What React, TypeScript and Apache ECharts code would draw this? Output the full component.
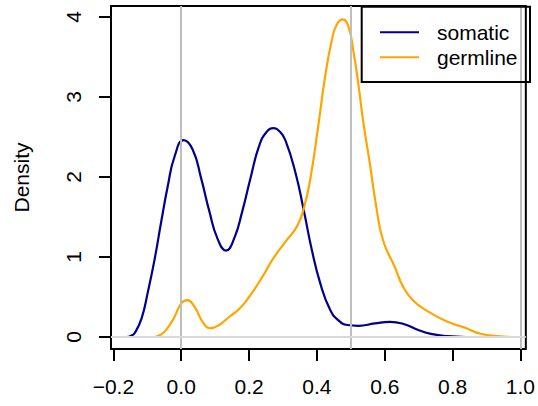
import React, { useEffect, useRef } from "react";
import * as echarts from "echarts";

const seriesNames = ["somatic", "germline"];
const seriesColors = ["#00008B", "#FFA500"];

const somaticX = [-0.161, -0.15, -0.137, -0.117, -0.098, -0.078, -0.059, -0.039, -0.02, 0.007, 0.034, 0.059, 0.083, 0.107, 0.132, 0.156, 0.18, 0.204, 0.229, 0.251, 0.273, 0.29, 0.307, 0.337, 0.361, 0.385, 0.41, 0.439, 0.463, 0.49, 0.522, 0.571, 0.615, 0.658, 0.697, 0.736, 0.785, 0.839];
const somaticY = [0, 0.01, 0.05, 0.23, 0.57, 0.98, 1.44, 1.9, 2.25, 2.46, 2.34, 1.98, 1.57, 1.23, 1.08, 1.23, 1.57, 1.98, 2.38, 2.56, 2.61, 2.57, 2.46, 2.05, 1.59, 1.09, 0.67, 0.34, 0.21, 0.15, 0.14, 0.17, 0.19, 0.16, 0.09, 0.04, 0.01, 0];

const germlineX = [-0.078, -0.06, -0.044, -0.02, 0, 0.018, 0.039, 0.063, 0.085, 0.112, 0.141, 0.171, 0.2, 0.239, 0.268, 0.307, 0.341, 0.361, 0.38, 0.405, 0.424, 0.444, 0.458, 0.476, 0.493, 0.507, 0.522, 0.536, 0.556, 0.575, 0.595, 0.629, 0.654, 0.683, 0.727, 0.785, 0.834, 0.883, 0.932, 0.973];
const germlineY = [0, 0.03, 0.09, 0.25, 0.42, 0.46, 0.38, 0.19, 0.11, 0.15, 0.25, 0.35, 0.5, 0.75, 0.96, 1.19, 1.38, 1.6, 1.96, 2.67, 3.25, 3.71, 3.9, 3.97, 3.88, 3.59, 3.17, 2.71, 2.17, 1.63, 1.21, 0.88, 0.63, 0.46, 0.32, 0.19, 0.12, 0.04, 0.01, 0];

const xTicks = [-0.2, 0, 0.2, 0.4, 0.6, 0.8, 1.0];
const yTicks = [0, 1, 2, 3, 4];
const vLines = [0, 0.5, 1.0];
const hLines = [0];

const FONT = '"Liberation Sans", Arial, Helvetica, sans-serif';

export default function App() {
  const ref = useRef<HTMLDivElement>(null);
  useEffect(() => {
    if (!ref.current) return;
    const chart = echarts.init(ref.current, null, { renderer: "svg" });
    const somatic = somaticX.map((x, i) => [x, somaticY[i]]);
    const germline = germlineX.map((x, i) => [x, germlineY[i]]);
    const fmtX = (v: number) => v.toFixed(1).replace("-", "\u2212");
    chart.setOption({
      animation: false,
      backgroundColor: "#fff",
      grid: {
        left: 111,
        top: 6,
        width: 418,
        height: 343,
        show: true,
        borderColor: "#000",
        borderWidth: 2,
        backgroundColor: "transparent",
      },
      xAxis: {
        type: "value",
        min: -0.207,
        max: 1.016,
        axisLine: { show: false, onZero: false },
        splitLine: { show: false },
        axisTick: {
          show: true,
          inside: false,
          length: 12,
          customValues: xTicks,
          lineStyle: { color: "#000", width: 2 },
        },
        axisLabel: {
          show: true,
          customValues: xTicks,
          formatter: fmtX,
          margin: 27,
          color: "#000",
          fontSize: 21,
          fontFamily: FONT,
        },
      },
      yAxis: {
        type: "value",
        min: -0.15,
        max: 4.1375,
        axisLine: { show: false, onZero: false },
        splitLine: { show: false },
        axisTick: {
          show: true,
          inside: false,
          length: 12,
          customValues: yTicks,
          lineStyle: { color: "#000", width: 2 },
        },
        axisLabel: {
          show: true,
          customValues: yTicks,
          formatter: (v: number) => String(v),
          rotate: 90,
          margin: 27,
          color: "#000",
          fontSize: 21,
          fontFamily: FONT,
        },
      },
      series: [
        {
          type: "line",
          name: "guides",
          data: [[0, 0]],
          symbol: "none",
          lineStyle: { width: 0 },
          z: 1,
          silent: true,
          markLine: {
            silent: true,
            symbol: "none",
            label: { show: false },
            animation: false,
            data: [
              ...vLines.map((v) => ({ xAxis: v, lineStyle: { color: "#bebebe", width: 2, type: "solid" } })),
              ...hLines.map((v) => ({ yAxis: v, lineStyle: { color: "#d9d9d9", width: 2, type: "solid" } })),
            ],
          },
        },
        {
          type: "line",
          name: seriesNames[0],
          data: somatic,
          smooth: 0.5,
          symbol: "none",
          z: 3,
          lineStyle: { color: seriesColors[0], width: 2.2 },
        },
        {
          type: "line",
          name: seriesNames[1],
          data: germline,
          smooth: 0.5,
          symbol: "none",
          z: 3,
          lineStyle: { color: seriesColors[1], width: 2.2 },
        },
      ],
      graphic: [
        {
          type: "text",
          x: 21,
          y: 177.5,
          rotation: Math.PI / 2,
          style: {
            text: "Density",
            fill: "#000",
            fontSize: 21,
            fontFamily: FONT,
            align: "center",
            verticalAlign: "middle",
          },
        },
        {
          type: "rect",
          shape: { x: 361.7, y: 6.7, width: 168.3, height: 75.3 },
          style: { fill: "none", stroke: "#000", lineWidth: 2 },
          z: 10,
        },
        ...seriesNames.map((n, i) => ({
          type: "line",
          shape: { x1: 380, y1: 32.3 + i * 25, x2: 419, y2: 32.3 + i * 25 },
          style: { stroke: seriesColors[i], lineWidth: 2 },
          z: 10,
        })),
        ...seriesNames.map((n, i) => ({
          type: "text",
          x: 437,
          y: 32 + i * 25,
          style: {
            text: n,
            fill: "#000",
            fontSize: 21,
            fontFamily: FONT,
            align: "left",
            verticalAlign: "middle",
          },
          z: 10,
        })),
      ],
    });
    return () => chart.dispose();
  }, []);
  return (
    <div
      ref={ref}
      style={{ position: "fixed", left: 0, top: 0, width: 538, height: 406 }}
    />
  );
}
